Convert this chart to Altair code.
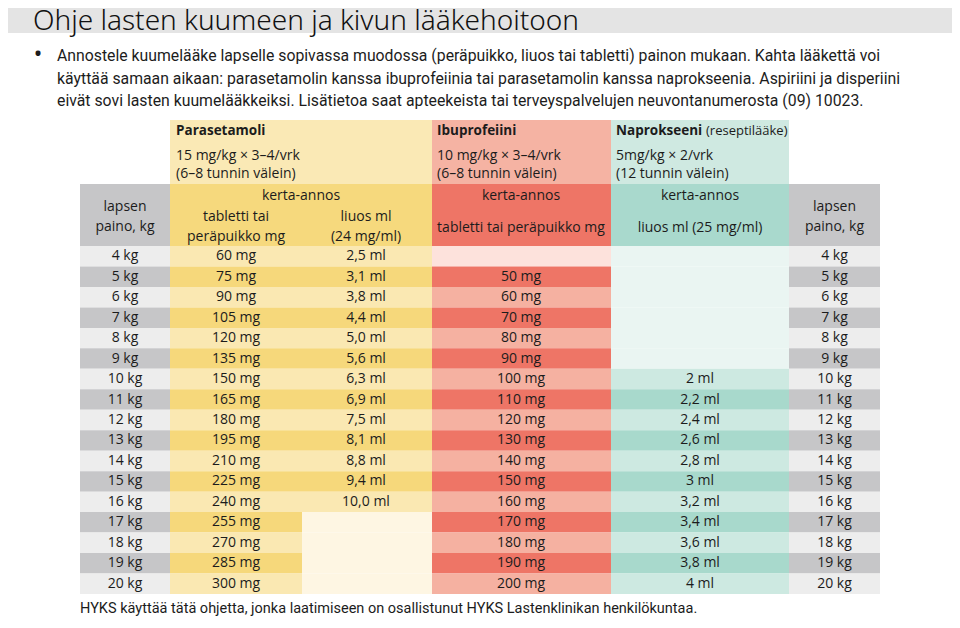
import altair as alt
import pandas as pd

# ---------------- data ----------------
weights = ["4 kg", "5 kg", "6 kg", "7 kg", "8 kg", "9 kg", "10 kg", "11 kg", "12 kg",
           "13 kg", "14 kg", "15 kg", "16 kg", "17 kg", "18 kg", "19 kg", "20 kg"]
para_tablet = ["60 mg", "75 mg", "90 mg", "105 mg", "120 mg", "135 mg", "150 mg", "165 mg",
               "180 mg", "195 mg", "210 mg", "225 mg", "240 mg", "255 mg", "270 mg", "285 mg", "300 mg"]
para_liquid = ["2,5 ml", "3,1 ml", "3,8 ml", "4,4 ml", "5,0 ml", "5,6 ml", "6,3 ml", "6,9 ml",
               "7,5 ml", "8,1 ml", "8,8 ml", "9,4 ml", "10,0 ml", "", "", "", ""]
ibu_tablet = ["", "50 mg", "60 mg", "70 mg", "80 mg", "90 mg", "100 mg", "110 mg", "120 mg",
              "130 mg", "140 mg", "150 mg", "160 mg", "170 mg", "180 mg", "190 mg", "200 mg"]
napro_liquid = ["", "", "", "", "", "", "2 ml", "2,2 ml", "2,4 ml", "2,6 ml", "2,8 ml", "3 ml",
                "3,2 ml", "3,4 ml", "3,6 ml", "3,8 ml", "4 ml"]

title_text = "Ohje lasten kuumeen ja kivun lääkehoitoon"
intro_lines = [
    "Annostele kuumelääke lapselle sopivassa muodossa (peräpuikko, liuos tai tabletti) painon mukaan. Kahta lääkettä voi",
    "käyttää samaan aikaan: parasetamolin kanssa ibuprofeiinia tai parasetamolin kanssa naprokseenia. Aspiriini ja disperiini",
    "eivät sovi lasten kuumelääkkeiksi. Lisätietoa saat apteekeista tai terveyspalvelujen neuvontanumerosta (09) 10023.",
]
footer_text = "HYKS käyttää tätä ohjetta, jonka laatimiseen on osallistunut HYKS Lastenklinikan henkilökuntaa."

drug_names = ["Parasetamoli", "Ibuprofeiini", "Naprokseeni"]
drug_note = "(reseptilääke)"
drug_dose = ["15 mg/kg \u00d7 3\u20134/vrk", "10 mg/kg \u00d7 3\u20134/vrk", "5mg/kg \u00d7 2/vrk"]
drug_interval = ["(6\u20138 tunnin välein)", "(6\u20138 tunnin välein)", "(12 tunnin välein)"]
single_dose = "kerta-annos"
weight_head = ["lapsen", "paino, kg"]
para_sub = [["tabletti tai", "peräpuikko mg"], ["liuos ml", "(24 mg/ml)"]]
ibu_sub = "tabletti tai peräpuikko mg"
napro_sub = "liuos ml (25 mg/ml)"

# ---------------- layout ----------------
COLS = {"wl": (80, 170), "pt": (170, 302), "pl": (302, 432), "ib": (432, 611),
        "np": (611, 789), "wr": (789, 880)}
TEXT_X = {"wl": 125, "pt": 236, "pl": 366, "ib": 521, "np": 700, "wr": 834.5}
PAL = {
    "wl": ("#ededed", "#c6c6c8", "#ededed"),
    "wr": ("#ededed", "#c6c6c8", "#ededed"),
    "pt": ("#fae8b2", "#f6d87b", "#fef6e3"),
    "pl": ("#fae8b2", "#f6d87b", "#fef6e3"),
    "ib": ("#f5b1a1", "#ee7566", "#fde2dc"),
    "np": ("#cde9e1", "#a8d9cc", "#eaf5f2"),
}
TOP_H, MID_H, BODY_TOP, BODY_BOT = 120, 184, 246, 594
ROW_H = (BODY_BOT - BODY_TOP) / len(weights)
TXT = "#1c1c1c"
FONT = "Open Sans"
BODYFONT = "Roboto"

# ---------------- rectangles ----------------
rects = [dict(x=8, x2=952, y=8, y2=33, c="#e4e4e4")]
rects += [
    dict(x=170, x2=432, y=TOP_H, y2=MID_H, c="#fae9b5"),
    dict(x=432, x2=611, y=TOP_H, y2=MID_H, c="#f5b3a3"),
    dict(x=611, x2=789, y=TOP_H, y2=MID_H, c="#cfe9e1"),
    dict(x=80, x2=170, y=MID_H, y2=BODY_TOP, c="#c6c6c8"),
    dict(x=170, x2=432, y=MID_H, y2=BODY_TOP, c="#f6d97d"),
    dict(x=432, x2=611, y=MID_H, y2=BODY_TOP, c="#ee7566"),
    dict(x=611, x2=789, y=MID_H, y2=BODY_TOP, c="#a9d9cd"),
    dict(x=789, x2=880, y=MID_H, y2=BODY_TOP, c="#c6c6c8"),
]
col_values = {"wl": weights, "pt": para_tablet, "pl": para_liquid, "ib": ibu_tablet,
              "np": napro_liquid, "wr": weights}
center_texts = []
for key, vals in col_values.items():
    x0, x1 = COLS[key]
    for i, v in enumerate(vals):
        y0 = BODY_TOP + i * ROW_H
        light, dark, empty = PAL[key]
        c = empty if v == "" else (light if i % 2 == 0 else dark)
        rects.append(dict(x=x0, x2=x1, y=y0, y2=y0 + ROW_H, c=c))
        if v:
            center_texts.append(dict(x=TEXT_X[key], y=y0 + ROW_H / 2, t=v))
rect_df = pd.DataFrame(rects)

# header texts (centered)
center_texts += [
    dict(x=301, y=196, t=single_dose), dict(x=521, y=196, t=single_dose), dict(x=700, y=196, t=single_dose),
    dict(x=236, y=217, t=para_sub[0][0]), dict(x=236, y=237, t=para_sub[0][1]),
    dict(x=366, y=217, t=para_sub[1][0]), dict(x=366, y=237, t=para_sub[1][1]),
    dict(x=521, y=228, t=ibu_sub), dict(x=700, y=228, t=napro_sub),
    dict(x=125, y=207, t=weight_head[0]), dict(x=125, y=227, t=weight_head[1]),
    dict(x=834.5, y=207, t=weight_head[0]), dict(x=834.5, y=227, t=weight_head[1]),
]
center_df = pd.DataFrame(center_texts)

left_x = [176, 437, 616]
bold_df = pd.DataFrame([dict(x=left_x[k], y=131, t=drug_names[k]) for k in range(3)])
note_df = pd.DataFrame([dict(x=706, y=131, t=drug_note)])
left_rows = []
for k in range(3):
    left_rows.append(dict(x=left_x[k], y=156, t=drug_dose[k]))
    left_rows.append(dict(x=left_x[k], y=174, t=drug_interval[k]))
left_df = pd.DataFrame(left_rows)

intro_df = pd.DataFrame([dict(x=57, y=56 + 22.5 * i, t=s) for i, s in enumerate(intro_lines)])
bullet_df = pd.DataFrame([dict(x=38, y=55, t="\u2022")])
title_df = pd.DataFrame([dict(x=33, y=30, t=title_text)])
footer_df = pd.DataFrame([dict(x=80, y=609, t=footer_text)])

# ---------------- scales ----------------
xs = alt.Scale(domain=[8, 952], nice=False, zero=False)
ys = alt.Scale(domain=[8, 618], nice=False, zero=False, reverse=True)
X = alt.X("x:Q", scale=xs, axis=None)
Y = alt.Y("y:Q", scale=ys, axis=None)

rect_layer = alt.Chart(rect_df).mark_rect(strokeWidth=0).encode(
    x=X, x2="x2:Q", y=Y, y2="y2:Q", color=alt.Color("c:N", scale=None))


def txt(df, **kw):
    base = dict(baseline="middle", color=TXT)
    base.update(kw)
    return alt.Chart(df).mark_text(**base).encode(x=X, y=Y, text="t:N")


layers = [
    rect_layer,
    txt(title_df, align="left", baseline="alphabetic", font="Noto Sans", fontWeight=300,
        fontSize=28, color="#111111"),
    txt(bullet_df, align="center", font=FONT, fontSize=24),
    txt(intro_df, align="left", font=BODYFONT, fontSize=15.8),
    txt(bold_df, align="left", font=FONT, fontSize=13.5, fontWeight="bold"),
    txt(note_df, align="left", font=FONT, fontSize=13),
    txt(left_df, align="left", font=FONT, fontSize=14),
    txt(center_df, align="center", font=FONT, fontSize=14),
    txt(footer_df, align="left", font=BODYFONT, fontSize=14.5),
]

chart = alt.layer(*layers).properties(
    width=944, height=610, autosize="none", padding=0
).configure_view(stroke=None)

chart.save("out.html", embed_options={"renderer": "svg", "actions": False})
